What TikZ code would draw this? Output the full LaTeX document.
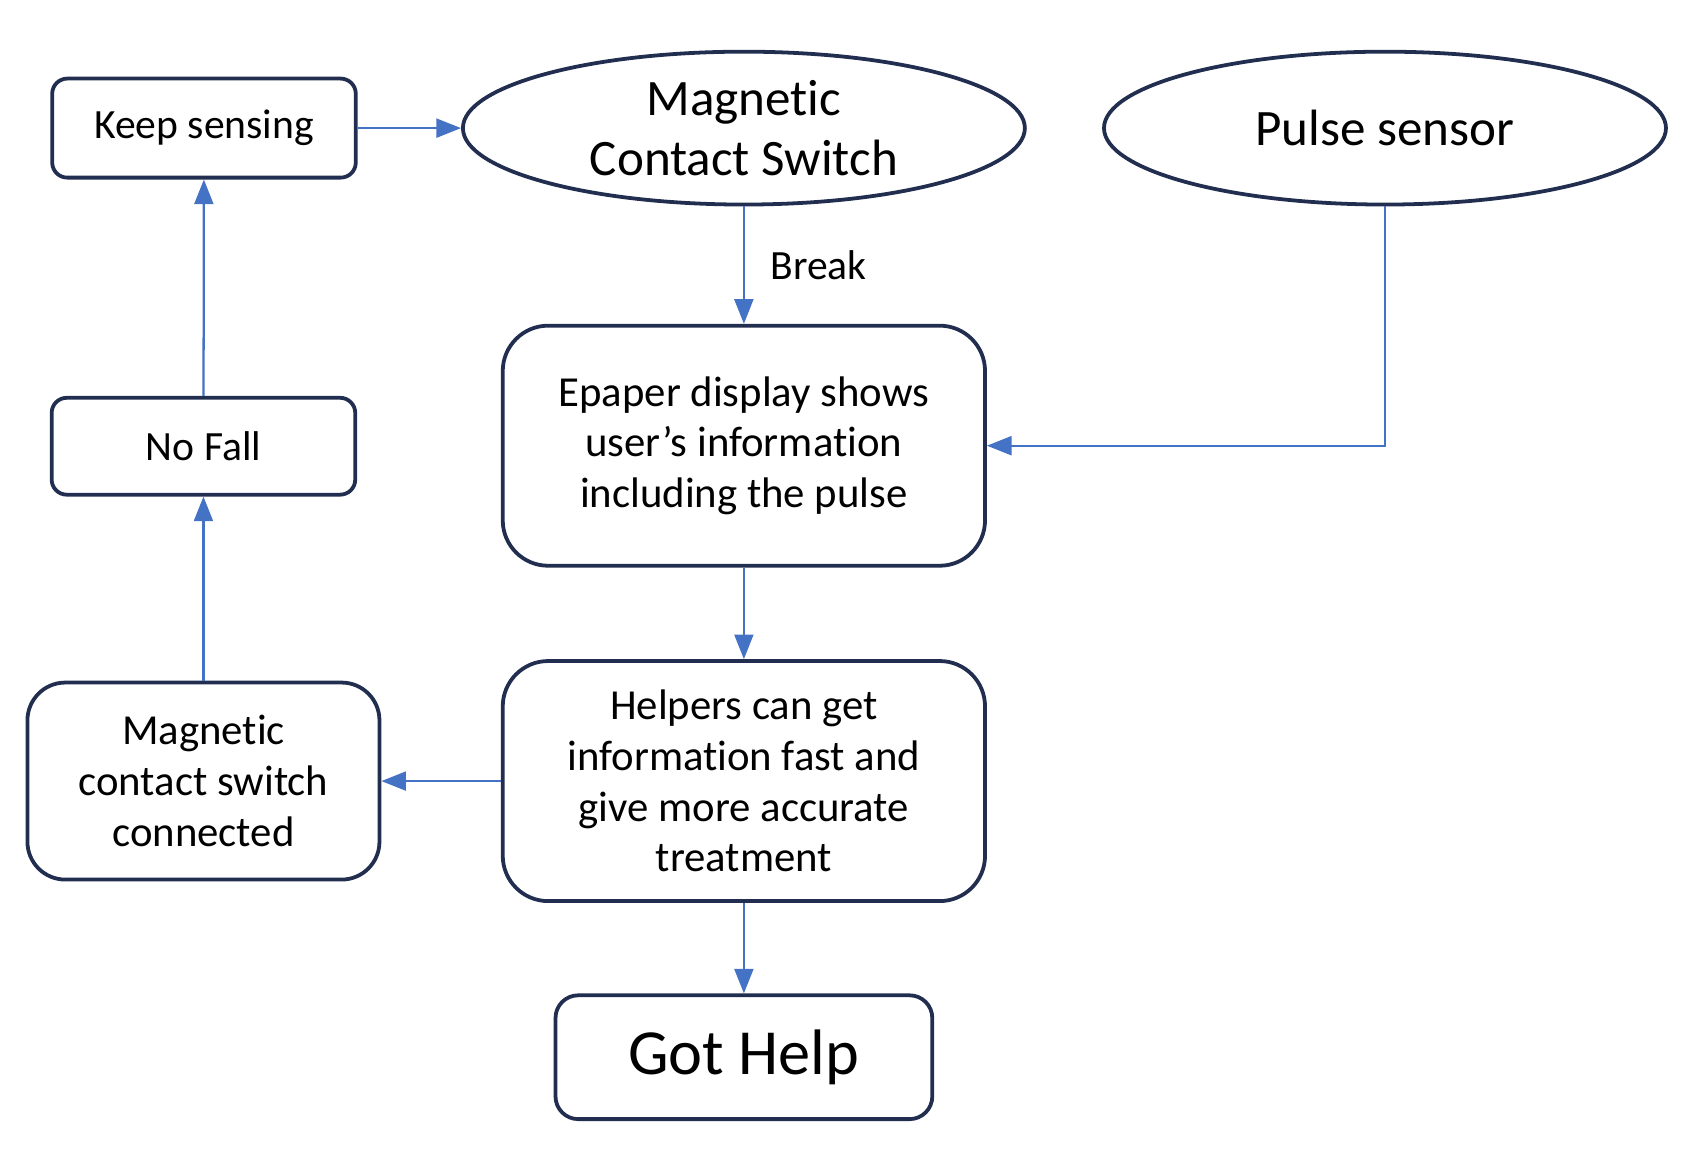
\documentclass[tikz,border=0pt]{standalone}
\usepackage{fontspec}
\setmainfont{Carlito}[Ligatures=NoCommon]
\usetikzlibrary{positioning, arrows.meta, shapes.geometric}

\definecolor{boxline}{HTML}{222E4F}
\definecolor{flowblue}{HTML}{4472C4}

\begin{document}
\begin{tikzpicture}[
        stepbox/.style={draw=boxline, line width=1pt, rounded corners=#1, align=center, inner sep=2pt},
        stepbox/.default=12pt,
        sensor/.style={draw=boxline, line width=1pt, ellipse, align=center, inner sep=0pt,
            minimum width=5.22cm, minimum height=1.42cm, font=\fontsize{13.5}{16}\selectfont},
        flow/.style={draw=flowblue, line width=0.6pt, -{Triangle[length=6.5pt,width=5pt]}}
    ]
        \useasboundingbox (0,0) rectangle (15.68,-10.68);
        % sensors on top
        \node (mcs) [sensor] at (6.91,-1.19) {Magnetic\\Contact Switch};
        \node (pulse) [sensor, right=0.70cm of mcs] {Pulse sensor};
        \node (keep) [stepbox=4pt, minimum width=2.82cm, minimum height=0.92cm, left=0.96cm of mcs,
            font=\fontsize{11}{13}\selectfont] {Keep sensing};
        % middle column
        \node (epaper) [stepbox=12pt, minimum width=4.48cm, minimum height=2.23cm, below=1.09cm of mcs,
            font=\fontsize{11.3}{13.4}\selectfont] {Epaper display shows\\user’s information\\including the pulse};
        \node (helpers) [stepbox=12pt, minimum width=4.48cm, minimum height=2.23cm, below=0.85cm of epaper,
            font=\fontsize{11.3}{13.4}\selectfont] {Helpers can get\\information fast and\\give more accurate\\treatment};
        \node (gothelp) [stepbox=6pt, minimum width=3.5cm, minimum height=1.15cm, below=0.84cm of helpers,
            font=\fontsize{17}{20}\selectfont] {Got Help};
        % left column
        \node (conn) [stepbox=10pt, minimum width=3.27cm, minimum height=1.83cm, left=1.11cm of helpers,
            font=\fontsize{11.3}{13.4}\selectfont] {Magnetic\\contact switch\\connected};
        \node (nofall) [stepbox=4pt, minimum width=2.82cm, minimum height=0.9cm, above=1.71cm of conn,
            font=\fontsize{11}{13}\selectfont] {No Fall};

        \draw [flow] (keep) -- (mcs);
        \draw [flow] (mcs) -- (epaper) node [midway, right=0.12cm, font=\fontsize{11}{13}\selectfont] {Break};
        \draw [flow] (pulse.south) |- (epaper.east);
        \draw [flow] (epaper) -- (helpers);
        \draw [flow] (helpers) -- (gothelp);
        \draw [flow] (helpers) -- (conn);
        \draw [flow] (conn) -- (nofall);
        \draw [flow] (nofall) -- (keep);
    \end{tikzpicture}
\end{document}
